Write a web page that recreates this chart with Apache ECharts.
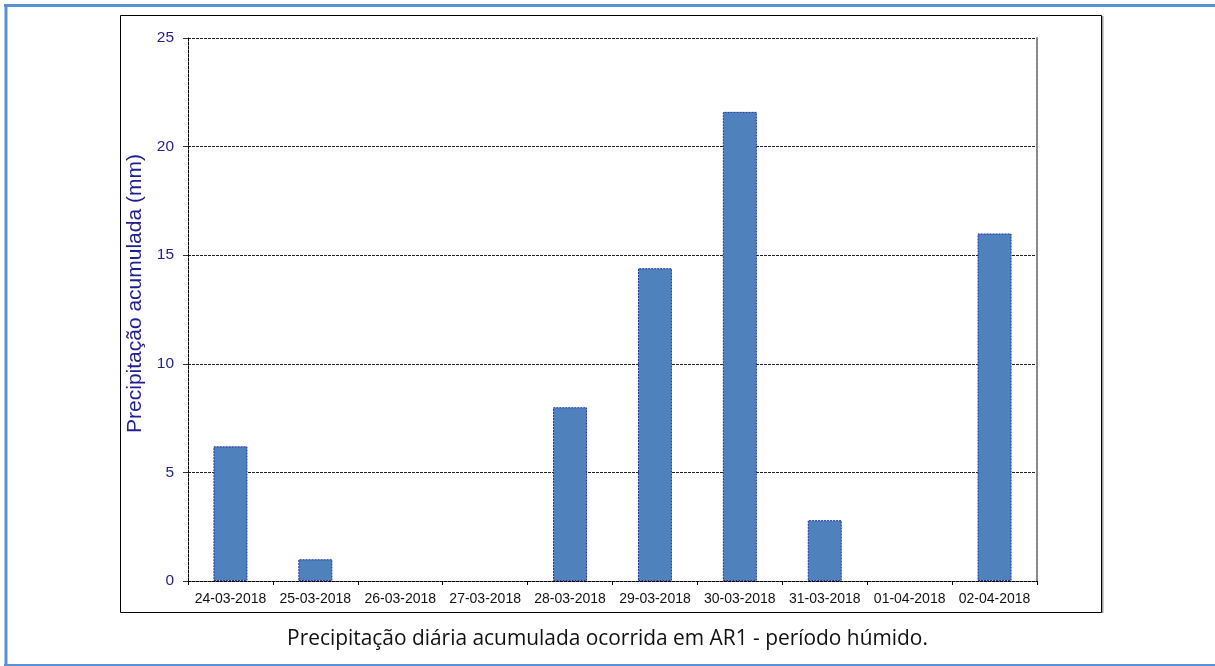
<!DOCTYPE html>
<html>
<head>
<meta charset="utf-8">
<script src="https://cdn.jsdelivr.net/npm/echarts@6/dist/echarts.min.js"></script>
<style>
html,body{margin:0;padding:0;background:#fff;}
#c{width:1215px;height:666px;}
</style>
</head>
<body>
<div id="c"></div>
<script>
const categories = ['24-03-2018','25-03-2018','26-03-2018','27-03-2018','28-03-2018','29-03-2018','30-03-2018','31-03-2018','01-04-2018','02-04-2018'];
const precipitation = [6.2, 1.0, 0, 0, 8.0, 14.4, 21.6, 2.8, 0, 16.0];
const yTicks = [0, 5, 10, 15, 20, 25];
const yAxisName = 'Precipitação acumulada (mm)';
const caption = 'Precipitação diária acumulada ocorrida em AR1 - período húmido.';

const chart = echarts.init(document.getElementById('c'), null, {renderer: 'canvas'});
const navy = '#1f1f8f';
const barData = precipitation.map(v => v === 0 ? {value: v, itemStyle: {borderWidth: 0}} : v);
chart.setOption({
  animation: false,
  backgroundColor: '#fff',
  grid: {left: 188, right: 178, top: 38, bottom: 85, containLabel: false},
  graphic: [
    // outer blue frame (top, left, bottom)
    {type: 'line', shape: {x1: 4, y1: 5.5, x2: 1215, y2: 5.5}, style: {stroke: '#5b8fd6', lineWidth: 3}, silent: true},
    {type: 'line', shape: {x1: 6, y1: 4, x2: 6, y2: 666}, style: {stroke: '#5b8fd6', lineWidth: 3}, silent: true},
    {type: 'line', shape: {x1: 4, y1: 665, x2: 1215, y2: 665}, style: {stroke: '#5b8fd6', lineWidth: 2}, silent: true},
    // chart frame shadow + border
    {type: 'line', shape: {x1: 1102.5, y1: 16, x2: 1102.5, y2: 613}, style: {stroke: '#a0a0a0', lineWidth: 2}, silent: true},
    {type: 'rect', shape: {x: 120.5, y: 15.5, width: 981, height: 597}, style: {fill: 'none', stroke: '#000', lineWidth: 1}, silent: true},
    // caption
    {type: 'text', left: 'center', top: 629, style: {text: caption, font: '20.9px "Open Sans", sans-serif', fill: '#111'}, silent: true}
  ],
  xAxis: [{
    type: 'category',
    data: categories,
    axisLine: {show: true, lineStyle: {color: '#000', type: [3, 1], width: 1}},
    axisTick: {show: true, length: 4, lineStyle: {color: '#000'}},
    axisLabel: {color: '#111', fontSize: 14, fontFamily: 'Liberation Sans, Arial, sans-serif', margin: 11, interval: 0},
    splitLine: {show: false}
  }, {
    type: 'category',
    data: categories,
    position: 'top',
    axisLine: {show: false},
    axisTick: {show: false},
    axisLabel: {show: false}
  }],
  yAxis: [{
    type: 'value',
    min: 0, max: 25, interval: 5,
    name: yAxisName,
    nameLocation: 'middle',
    nameGap: 39,
    nameTextStyle: {color: navy, fontSize: 21, fontFamily: 'Liberation Sans, Arial, sans-serif', padding: [0, 0, 0, 32]},
    axisLine: {show: true, lineStyle: {color: '#000', type: [3, 1], width: 1}},
    axisTick: {show: true, length: 5, lineStyle: {color: '#333'}},
    axisLabel: {color: navy, fontSize: 15.5, fontFamily: 'Liberation Sans, Arial, sans-serif', margin: 14,
      formatter: v => yTicks.includes(v) ? String(v) : ''},
    splitLine: {show: true, lineStyle: {color: '#222', type: [3, 1], width: 1}}
  }, {
    type: 'value',
    min: 0, max: 25, interval: 5,
    position: 'right',
    axisLine: {show: true, lineStyle: {color: '#888', type: [3, 1], width: 2}},
    axisTick: {show: false},
    axisLabel: {show: false},
    splitLine: {show: false}
  }],
  series: [{
    type: 'bar',
    data: barData,
    barWidth: 34,
    itemStyle: {color: '#4f81bd', borderColor: '#1f2f9f', borderWidth: 1, borderType: [2, 1]},
    emphasis: {disabled: true}
  }]
});
</script>
</body>
</html>
